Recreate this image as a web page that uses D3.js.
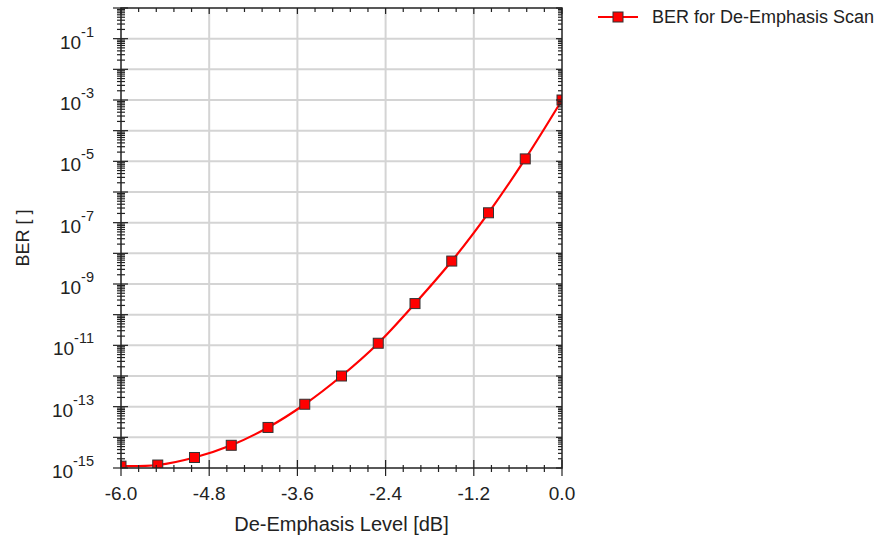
<!DOCTYPE html>
<html>
<head>
<meta charset="utf-8">
<script src="https://cdn.jsdelivr.net/npm/d3@7"></script>
<style>
  html, body { margin: 0; padding: 0; background: #fff; }
  svg { display: block; font-family: "Liberation Sans", Arial, sans-serif; }
</style>
</head>
<body>
<svg id="chart" width="887" height="539"></svg>
<script>
// De-emphasis level sweep (dB) and measured bit error rate
const deEmphasis = [-6.0, -5.5, -5.0, -4.5, -4.0, -3.5, -3.0, -2.5, -2.0, -1.5, -1.0, -0.5, 0.0];
const ber = [1.15e-15, 1.25e-15, 2.2e-15, 5.5e-15, 2.1e-14, 1.2e-13, 1.0e-12, 1.17e-11, 2.3e-10, 5.6e-9, 2.1e-7, 1.2e-5, 1.0e-3];

const xTickValues = [-6.0, -4.8, -3.6, -2.4, -1.2, 0.0];
const yLabelExponents = [-1, -3, -5, -7, -9, -11, -13, -15];
const seriesName = "BER for De-Emphasis Scan";
const xTitle = "De-Emphasis Level [dB]";
const yTitle = "BER [ ]";

const svg = d3.select("#chart");
const plot = { left: 121, right: 562, top: 8, bottom: 468 };

const x = d3.scaleLinear().domain([-6, 0]).range([plot.left, plot.right]);
const y = d3.scaleLog().domain([1e-15, 1]).range([plot.bottom, plot.top]);

const gridColor = "#d4d4d4";
const axisColor = "#222";

// decade and minor positions on the log axis
const decades = d3.range(-15, 1).map(e => Math.pow(10, e));
const minors = [];
for (let e = -15; e < 0; e++) {
  for (let m = 2; m <= 9; m++) minors.push(m * Math.pow(10, e));
}
const xMinor = d3.range(0, 26).map(i => -6 + i * 0.24).filter(v => !xTickValues.some(t => Math.abs(t - v) < 1e-6));

svg.append("defs").append("clipPath").attr("id", "plot-clip")
  .append("rect")
  .attr("x", plot.left).attr("y", plot.top)
  .attr("width", plot.right - plot.left).attr("height", plot.bottom - plot.top);

// grid
const grid = svg.append("g");
grid.selectAll("line.h").data(decades.filter(d => d > 1e-15 && d < 1))
  .join("line")
  .attr("x1", plot.left).attr("x2", plot.right)
  .attr("y1", d => y(d)).attr("y2", d => y(d))
  .attr("stroke", gridColor).attr("stroke-width", 2);
grid.selectAll("line.v").data(xTickValues.filter(v => v > -6 && v < 0))
  .join("line")
  .attr("y1", plot.top).attr("y2", plot.bottom)
  .attr("x1", d => x(d)).attr("x2", d => x(d))
  .attr("stroke", gridColor).attr("stroke-width", 2);

// series, clipped to the plot area
const pts = deEmphasis.map((d, i) => [d, ber[i]]);
const series = svg.append("g").attr("clip-path", "url(#plot-clip)");
const line = d3.line().x(d => x(d[0])).y(d => y(d[1])).curve(d3.curveCatmullRom);
series.append("path").datum(pts)
  .attr("d", line)
  .attr("fill", "none").attr("stroke", "#ff0000").attr("stroke-width", 2.2);

const ms = 10;
series.selectAll("rect").data(pts).join("rect")
  .attr("x", d => x(d[0]) - ms / 2).attr("y", d => y(d[1]) - ms / 2)
  .attr("width", ms).attr("height", ms)
  .attr("fill", "#ff0000").attr("stroke", "#333").attr("stroke-width", 1);

// frame
svg.append("rect")
  .attr("x", plot.left).attr("y", plot.top)
  .attr("width", plot.right - plot.left).attr("height", plot.bottom - plot.top)
  .attr("fill", "none").attr("stroke", axisColor).attr("stroke-width", 1.5);

const ticks = svg.append("g").attr("stroke", axisColor).attr("stroke-width", 1.2);

// left axis: crossing ticks
ticks.selectAll("line.lmaj").data(decades).join("line")
  .attr("x1", plot.left - 8).attr("x2", plot.left + 7)
  .attr("y1", d => y(d)).attr("y2", d => y(d));
ticks.selectAll("line.lmin").data(minors).join("line")
  .attr("x1", plot.left - 4).attr("x2", plot.left + 4)
  .attr("y1", d => y(d)).attr("y2", d => y(d));

// right axis: inward ticks
ticks.selectAll("line.rmaj").data(decades).join("line")
  .attr("x1", plot.right - 6).attr("x2", plot.right)
  .attr("y1", d => y(d)).attr("y2", d => y(d));
ticks.selectAll("line.rmin").data(minors).join("line")
  .attr("x1", plot.right - 4).attr("x2", plot.right)
  .attr("y1", d => y(d)).attr("y2", d => y(d));

// bottom axis: crossing ticks
ticks.selectAll("line.bmaj").data(xTickValues).join("line")
  .attr("y1", plot.bottom - 8).attr("y2", plot.bottom + 8)
  .attr("x1", d => x(d)).attr("x2", d => x(d));
ticks.selectAll("line.bmin").data(xMinor).join("line")
  .attr("y1", plot.bottom - 3).attr("y2", plot.bottom + 4)
  .attr("x1", d => x(d)).attr("x2", d => x(d));

// top axis: inward ticks
ticks.selectAll("line.tmaj").data(xTickValues).join("line")
  .attr("y1", plot.top).attr("y2", plot.top + 6)
  .attr("x1", d => x(d)).attr("x2", d => x(d));
ticks.selectAll("line.tmin").data(xMinor).join("line")
  .attr("y1", plot.top).attr("y2", plot.top + 4)
  .attr("x1", d => x(d)).attr("x2", d => x(d));

// x tick labels
svg.append("g").selectAll("text").data(xTickValues).join("text")
  .attr("x", d => x(d)).attr("y", plot.bottom + 32)
  .attr("text-anchor", "middle")
  .attr("font-size", 19).attr("fill", axisColor)
  .text(d => d.toFixed(1));

// y tick labels as 10^n
const yl = svg.append("g").selectAll("text").data(yLabelExponents).join("text")
  .attr("x", 94).attr("y", d => y(Math.pow(10, d)) + 10)
  .attr("text-anchor", "end")
  .attr("font-size", 19).attr("fill", axisColor);
yl.append("tspan").text("10");
yl.append("tspan").attr("font-size", 14.5).attr("dy", -12).text(d => String(d));

// axis titles
svg.append("text")
  .attr("x", (plot.left + plot.right) / 2).attr("y", 531)
  .attr("text-anchor", "middle").attr("font-size", 20).attr("fill", axisColor)
  .text(xTitle);
svg.append("text")
  .attr("transform", `translate(29,${(plot.top + plot.bottom) / 2}) rotate(-90)`)
  .attr("text-anchor", "middle").attr("font-size", 18).attr("fill", axisColor)
  .text(yTitle);

// legend
const lg = svg.append("g");
lg.append("line").attr("x1", 598).attr("x2", 638).attr("y1", 17).attr("y2", 17)
  .attr("stroke", "#ff0000").attr("stroke-width", 2.2);
lg.append("rect").attr("x", 618 - ms / 2).attr("y", 17 - ms / 2).attr("width", ms).attr("height", ms)
  .attr("fill", "#ff0000").attr("stroke", "#333").attr("stroke-width", 1);
lg.append("text").attr("x", 652).attr("y", 23)
  .attr("font-size", 18).attr("fill", axisColor).text(seriesName);
</script>
</body>
</html>
